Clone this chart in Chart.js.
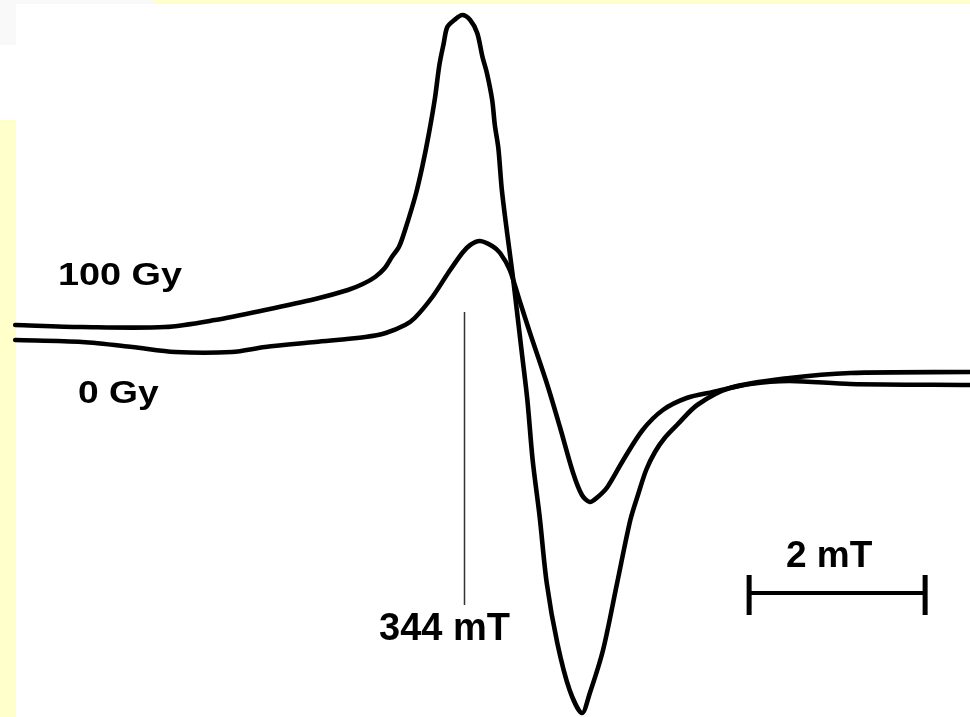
<!DOCTYPE html>
<html>
<head>
<meta charset="utf-8">
<script src="https://cdn.jsdelivr.net/npm/chart.js@4.4.1/dist/chart.umd.min.js"></script>
<style>
  html, body { margin: 0; padding: 0; background: #ffffff; }
  #wrap { position: relative; width: 970px; height: 717px; overflow: hidden; background: #ffffff; }
  .band { position: absolute; }
  canvas { position: absolute; left: 0; top: 0; }
</style>
</head>
<body>
<div id="wrap">
  <div class="band" style="left:154px;top:0;width:816px;height:4px;background:#ffffcc;"></div>
  <div class="band" style="left:0;top:0;width:154px;height:4px;background:#f9f9f9;"></div>
  <div class="band" style="left:0;top:0;width:16px;height:45px;background:#f9f9f9;"></div>
  <div class="band" style="left:0;top:120px;width:16px;height:597px;background:#ffffcc;"></div>
  <div class="band" style="left:16px;top:29px;width:954px;height:1px;background:#fffff2;"></div>
  <canvas id="c" width="970" height="717"></canvas>
</div>
<script>
// Magnetic field (mT) and EPR signal (arbitrary units)
const field100Gy = [338.90, 339.66, 340.60, 341.17, 341.74, 342.31, 342.68, 342.85, 342.99, 343.10,
  343.18, 343.26, 343.33, 343.45, 343.53, 343.60, 343.67, 343.72, 343.77, 343.81, 343.89, 343.98,
  344.07, 344.15, 344.21, 344.26, 344.32, 344.35, 344.39, 344.43, 344.49, 344.55, 344.60, 344.66,
  344.72, 344.78, 344.86, 344.94, 345.06, 345.20, 345.34, 345.43, 345.58, 345.74, 345.89, 345.98,
  346.07, 346.17, 346.28, 346.42, 346.65, 347.02, 347.70, 348.39, 349.75];
const signal100Gy = [35, 33, 33, 40, 50, 61, 70, 76, 83, 92,
  103, 113, 130, 165, 195, 226, 262, 295, 317, 333, 340, 345,
  340, 327, 303, 287, 260, 235, 212, 170, 127, 87, 50, 5,
  -40, -100, -157, -223, -283, -330, -353, -333, -290, -223, -160, -134,
  -110, -92, -78, -65, -45, -28, -18, -13, -12];

const field0Gy = [338.90, 339.66, 340.23, 340.72, 341.36, 341.74, 342.31, 342.88, 343.11, 343.33,
  343.44, 343.64, 343.82, 343.98, 344.07, 344.18, 344.32, 344.41, 344.52, 344.64, 344.75, 344.94,
  345.09, 345.24, 345.34, 345.43, 345.52, 345.63, 345.81, 346.03, 346.26, 346.53, 346.83, 347.25,
  347.70, 348.39, 349.75];
const signal0Gy = [20, 18, 13, 8, 8, 13, 18, 23, 27, 35,
  42, 63, 87, 107, 115, 119, 114, 107, 90, 57, 27, -23,
  -67, -113, -135, -142, -137, -127, -100, -70, -50, -38, -32, -24,
  -21, -24, -25];

const curveLabels = ["100 Gy", "0 Gy"];
const centerField = 344;      // mT, marked line
const scaleBar = [347.24, 349.24]; // 2 mT scale bar

const toPts = (xs, ys) => xs.map((x, i) => ({ x: x, y: ys[i] }));

const annot = {
  id: 'annot',
  afterDatasetsDraw(chart) {
    const ctx = chart.ctx;
    const xs = chart.scales.x;
    ctx.save();
    // vertical marker at 344 mT
    const vx = Math.round(xs.getPixelForValue(centerField)) + 0.5;
    ctx.strokeStyle = '#333333';
    ctx.lineWidth = 1.5;
    ctx.beginPath();
    ctx.moveTo(vx, 312);
    ctx.lineTo(vx, 605);
    ctx.stroke();
    // scale bar
    const x1 = xs.getPixelForValue(scaleBar[0]);
    const x2 = xs.getPixelForValue(scaleBar[1]);
    ctx.strokeStyle = '#000000';
    ctx.lineWidth = 4;
    ctx.beginPath();
    ctx.moveTo(x1, 593); ctx.lineTo(x2, 593);
    ctx.stroke();
    ctx.lineWidth = 5;
    ctx.beginPath();
    ctx.moveTo(x1, 575); ctx.lineTo(x1, 615);
    ctx.moveTo(x2, 575); ctx.lineTo(x2, 615);
    ctx.stroke();
    // texts
    const texts = [
      { t: curveLabels[0], x: 58, y: 285, size: 31, sx: 1.22 },
      { t: curveLabels[1], x: 78, y: 403, size: 31, sx: 1.2 },
      { t: centerField + ' mT', x: 379, y: 640, size: 38, sx: 1.0 },
      { t: '2 mT', x: 786, y: 567, size: 37, sx: 1.0 }
    ];
    ctx.fillStyle = '#000000';
    ctx.textBaseline = 'alphabetic';
    ctx.textAlign = 'left';
    texts.forEach(o => {
      ctx.save();
      ctx.translate(o.x, o.y);
      ctx.scale(o.sx, 1);
      ctx.font = 'bold ' + o.size + 'px "Liberation Sans", Arial, sans-serif';
      ctx.fillText(o.t, 0, 0);
      ctx.restore();
    });
    ctx.restore();
  }
};

new Chart(document.getElementById('c'), {
  type: 'line',
  data: {
    datasets: [
      { label: curveLabels[0], data: toPts(field100Gy, signal100Gy), borderColor: '#000000',
        borderWidth: 4.6, pointRadius: 0, tension: 0.3, fill: false },
      { label: curveLabels[1], data: toPts(field0Gy, signal0Gy), borderColor: '#000000',
        borderWidth: 4.6, pointRadius: 0, tension: 0.3, fill: false }
    ]
  },
  options: {
    responsive: false,
    animation: false,
    layout: { padding: 0 },
    plugins: { legend: { display: false }, tooltip: { enabled: false }, title: { display: false } },
    scales: {
      x: { type: 'linear', min: 338.727, max: 349.75, display: false },
      y: { type: 'linear', min: -357, max: 360, display: false }
    },
    elements: { line: { borderCapStyle: 'round', borderJoinStyle: 'round' } }
  },
  plugins: [annot]
});
</script>
</body>
</html>
